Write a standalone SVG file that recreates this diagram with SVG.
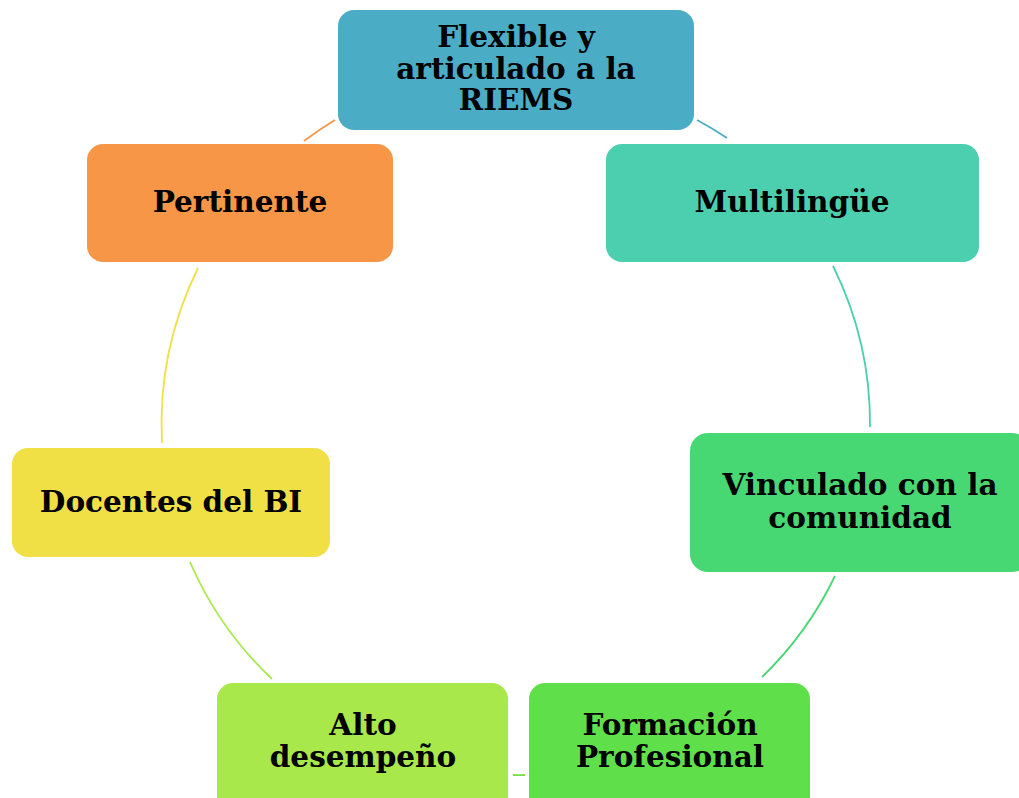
<svg xmlns="http://www.w3.org/2000/svg" width="1019" height="798" viewBox="0 0 1019 798">
<style>
.t{font-family:"DejaVu Serif","Liberation Serif",serif;font-weight:bold;font-size:29.5px;fill:#000;text-anchor:middle}
.c{fill:none;stroke-width:1.8}
</style>
<rect width="1019" height="798" fill="#fff"/>
<g id="connectors">
<path class="c" stroke="#4BACC6" d="M697,120 A354,354 0 0 1 727,138"/>
<path class="c" stroke="#4BCFAF" d="M833,266 A354,354 0 0 1 870,427"/>
<path class="c" stroke="#48D873" d="M835,576 A354,354 0 0 1 762,677"/>
<path class="c" stroke="#78E048" d="M525,775 A354,354 0 0 1 513,775"/>
<path class="c" stroke="#A9E84A" d="M272,679 A354,354 0 0 1 190,562"/>
<path class="c" stroke="#F0E046" d="M162,443 A354,354 0 0 1 198,268"/>
<path class="c" stroke="#F79646" d="M304,141 A354,354 0 0 1 335,120"/>
</g>
<g id="n-flexible">
<rect x="338" y="10" width="356" height="120" rx="16" fill="#4BACC6"/>
<text class="t" x="516" y="47">Flexible y</text>
<text class="t" x="516" y="79">articulado a la</text>
<text class="t" x="516" y="110">RIEMS</text>
</g>
<g id="n-multilingue">
<rect x="606" y="144" width="373" height="118" rx="16" fill="#4BCFAF"/>
<text class="t" x="792" y="212">Multilingüe</text>
</g>
<g id="n-vinculado">
<rect x="690" y="433" width="340" height="139" rx="18" fill="#48D873"/>
<text class="t" x="860" y="495">Vinculado con la</text>
<text class="t" x="860" y="528">comunidad</text>
</g>
<g id="n-formacion">
<rect x="529" y="683" width="281" height="130" rx="16" fill="#5FE04A"/>
<text class="t" x="670" y="735">Formación</text>
<text class="t" x="670" y="767">Profesional</text>
</g>
<g id="n-alto">
<rect x="217" y="683" width="291" height="130" rx="16" fill="#A9E84A"/>
<text class="t" x="363" y="735">Alto</text>
<text class="t" x="363" y="767">desempeño</text>
</g>
<g id="n-docentes">
<rect x="12" y="448" width="318" height="109" rx="16" fill="#F0E046"/>
<text class="t" x="171" y="512">Docentes del BI</text>
</g>
<g id="n-pertinente">
<rect x="87" y="144" width="306" height="118" rx="16" fill="#F79646"/>
<text class="t" x="240" y="212">Pertinente</text>
</g>
</svg>
